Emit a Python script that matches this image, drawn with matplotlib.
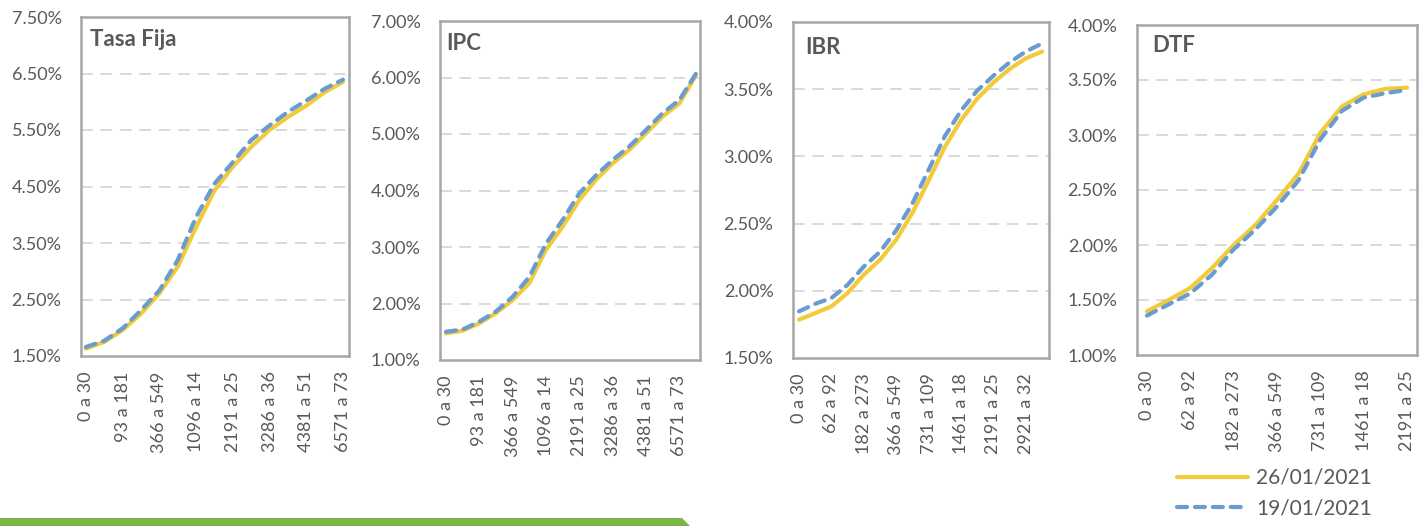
import matplotlib
matplotlib.use("Agg")
import matplotlib.pyplot as plt
from matplotlib.patches import Polygon

plt.rcParams['font.family'] = ['Lato', 'DejaVu Sans']

# ---------------- data ----------------
series_names = ["26/01/2021", "19/01/2021"]

tf_labels = ["0 a 30", "93 a 181", "366 a 549", "1096 a 14", "2191 a 25", "3286 a 36", "4381 a 51", "6571 a 73"]
tf_new = [1.63, 1.75, 1.96, 2.25, 2.61, 3.08, 3.78, 4.43, 4.85, 5.20, 5.50, 5.73, 5.93, 6.17, 6.35]
tf_old = [1.66, 1.77, 1.99, 2.31, 2.66, 3.20, 3.96, 4.55, 4.93, 5.32, 5.58, 5.82, 6.02, 6.23, 6.39]

ipc_labels = ["0 a 30", "93 a 181", "366 a 549", "1096 a 14", "2191 a 25", "3286 a 36", "4381 a 51", "6571 a 73"]
ipc_new = [1.47, 1.52, 1.65, 1.83, 2.06, 2.36, 2.95, 3.36, 3.83, 4.19, 4.48, 4.72, 5.01, 5.31, 5.54, 6.04]
ipc_old = [1.50, 1.54, 1.68, 1.86, 2.12, 2.47, 3.06, 3.48, 3.95, 4.27, 4.54, 4.78, 5.07, 5.37, 5.60, 6.07]

ibr_labels = ["0 a 30", "62 a 92", "182 a 273", "366 a 549", "731 a 109", "1461 a 18", "2191 a 25", "2921 a 32"]
ibr_new = [1.785, 1.834, 1.884, 1.983, 2.12, 2.23, 2.38, 2.58, 2.82, 3.07, 3.27, 3.43, 3.55, 3.65, 3.73, 3.78]
ibr_old = [1.847, 1.903, 1.946, 2.045, 2.18, 2.29, 2.45, 2.65, 2.90, 3.15, 3.34, 3.49, 3.60, 3.70, 3.78, 3.84]

dtf_labels = ["0 a 30", "62 a 92", "182 a 273", "366 a 549", "731 a 109", "1461 a 18", "2191 a 25"]
dtf_new = [1.397, 1.50, 1.61, 1.79, 2.00, 2.18, 2.41, 2.65, 3.02, 3.26, 3.37, 3.42, 3.43]
dtf_old = [1.358, 1.46, 1.56, 1.73, 1.96, 2.14, 2.35, 2.59, 2.96, 3.22, 3.34, 3.38, 3.41]

titles = ["Tasa Fija", "IPC", "IBR", "DTF"]

# ---------------- style ----------------
W, H = 1422, 526
YEL = "#F2CB3A"
BLU = "#6A9BD1"
TXT = "#595959"
BOX = "#A6A6A6"
GRID = "#D9D9D9"

fig = plt.figure(figsize=(W / 100, H / 100), dpi=100)

panels = [
    dict(box=(81, 17, 349, 356), ylim=(1.5, 7.5), step=1.0, xl=(-0.27, 14.33),
         labels=tf_labels, new=tf_new, old=tf_old, tpos=(90, 40)),
    dict(box=(440, 21, 700, 360), ylim=(1.0, 7.0), step=1.0, xl=(-0.36, 15.24),
         labels=ipc_labels, new=ipc_new, old=ipc_old, tpos=(446, 43)),
    dict(box=(793, 22, 1049, 358), ylim=(1.5, 4.0), step=0.5, xl=(-0.37, 15.43),
         labels=ibr_labels, new=ibr_new, old=ibr_old, tpos=(805, 48)),
    dict(box=(1137, 25, 1417, 355), ylim=(1.0, 4.0), step=0.5, xl=(-0.46, 12.46),
         labels=dtf_labels, new=dtf_new, old=dtf_old, tpos=(1152, 46)),
]

handles = None
for p, title in zip(panels, titles):
    l, t, r, b = p["box"]
    ax = fig.add_axes([l / W, 1 - b / H, (r - l) / W, (b - t) / H])
    x = list(range(len(p["new"])))
    h1, = ax.plot(x, p["new"], color=YEL, lw=3.0, solid_capstyle="round",
                  solid_joinstyle="round", zorder=3)
    h2, = ax.plot(x, p["old"], color=BLU, lw=3.0, dashes=(2.4, 1.9),
                  dash_capstyle="round", dash_joinstyle="round", zorder=4)
    handles = (h1, h2)
    ax.set_xlim(*p["xl"])
    ax.set_ylim(*p["ylim"])
    lo, hi = p["ylim"]
    n = int(round((hi - lo) / p["step"]))
    yt = [lo + i * p["step"] for i in range(n + 1)]
    ax.set_yticks(yt)
    ax.set_yticklabels([f"{v:.2f}%" for v in yt])
    for v in yt[1:-1]:
        ax.axhline(v, color=GRID, lw=1.4, dashes=(6, 4), zorder=1)
    ax.set_xticks(list(range(0, 2 * len(p["labels"]), 2)))
    ax.set_xticklabels(p["labels"], rotation=90, va="top", ha="center")
    ax.tick_params(axis="y", length=0, pad=14, labelsize=13, labelcolor=TXT)
    ax.tick_params(axis="x", length=0, pad=11, labelsize=13, labelcolor=TXT)
    for s in ax.spines.values():
        s.set_color(BOX)
        s.set_linewidth(1.8)
    fig.text(p["tpos"][0] / W, 1 - p["tpos"][1] / H, title, fontsize=16,
             fontweight="bold", color=TXT, ha="left", va="center")

leg = fig.legend(handles, series_names, loc="upper left",
                 bbox_to_anchor=(1177 / W, 1 - 468 / H), frameon=False,
                 fontsize=15, handlelength=3.4, handletextpad=0.4,
                 labelspacing=0.5, borderpad=0, borderaxespad=0)
for txt in leg.get_texts():
    txt.set_color(TXT)

green = Polygon([(0, 0), (690 / W, 0), (682 / W, 8 / H), (0, 8 / H)],
                closed=True, transform=fig.transFigure, facecolor="#7AB648",
                edgecolor="none")
fig.patches.append(green)

fig.savefig("out.png", dpi=100)
